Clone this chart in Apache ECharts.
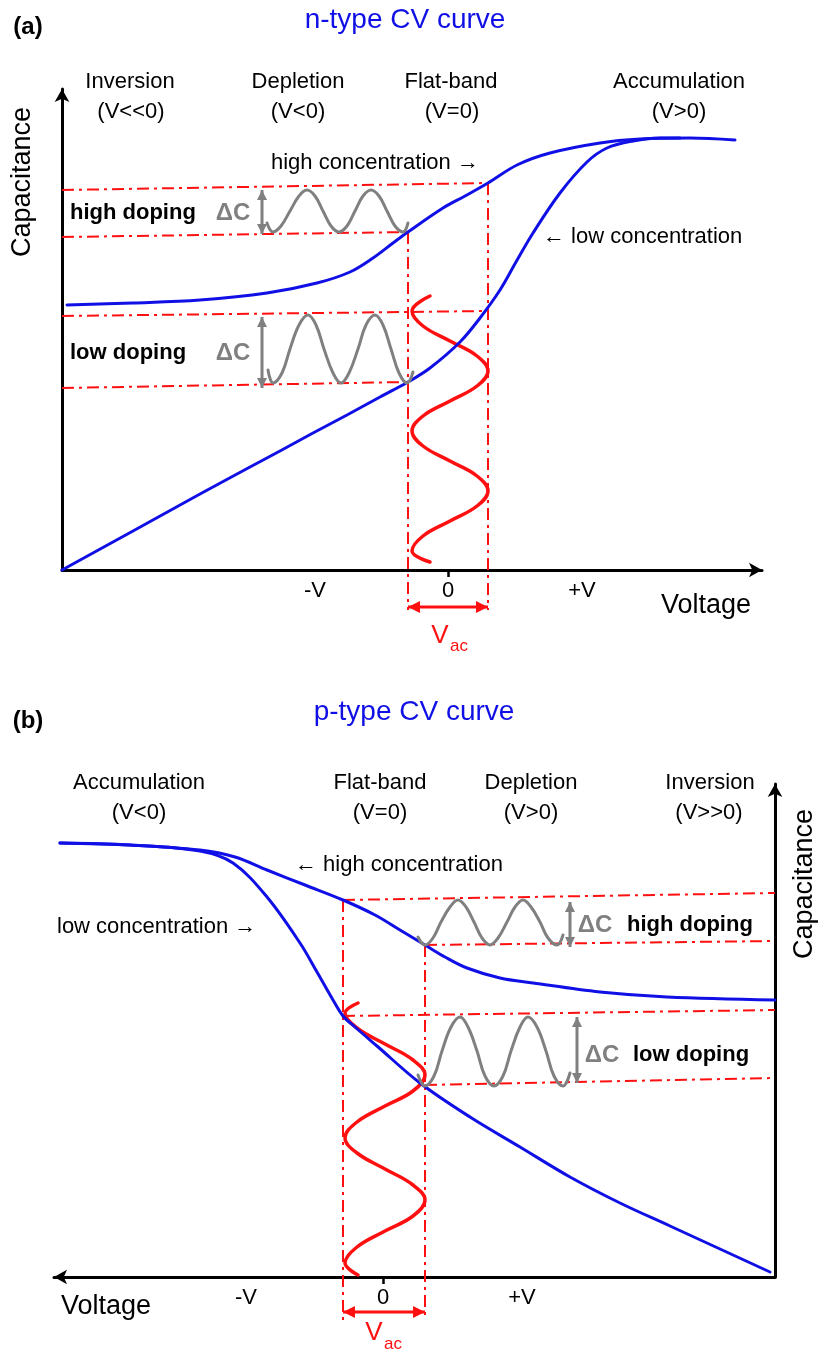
<!DOCTYPE html>
<html>
<head>
<meta charset="utf-8">
<script src="https://cdn.jsdelivr.net/npm/echarts@6/dist/echarts.min.js"></script>
<style>
  html, body { margin: 0; padding: 0; background: #ffffff; }
  #chart { width: 819px; height: 1351px; }
</style>
</head>
<body>
<div id="chart"></div>
<script>
// Voltage and capacitance are in arbitrary units; 0 V is the flat-band point.

// ---------- (a) n-type ----------
const nVoltTicks = [-13.3, 0, 13.4];
const nVoltTickLabels = ['-V', '0', '+V'];

const nHighConc = [[-38.1,26.5],[-31.5,26.7],[-24.8,27.0],[-18.1,27.7],[-13.1,28.7],[-9.8,29.8],[-7.5,31.2],[-5.5,32.7],[-4.0,33.8],[-0.5,36.2],[1.7,37.4],[4.0,38.7],[6.9,40.5],[10.2,41.7],[15.2,42.7],[19.2,43.1],[24.2,43.2],[28.7,43.0]];
const nLowConc = [[-38.6,0.0],[-31.5,3.9],[-24.8,7.6],[-19.8,10.3],[-16.8,11.9],[-13.5,13.7],[-10.1,15.5],[-6.8,17.3],[-4.0,18.8],[-1.8,20.2],[1.2,22.8],[3.2,25.2],[5.2,28.0],[6.8,30.8],[8.5,33.7],[11.2,37.7],[13.9,40.8],[15.9,42.2],[18.5,42.9],[21.2,43.2],[23.2,43.2]];

// capacitance ripple for high / low doping, and the ac voltage ripple
const nHighRipple = [[-18.1,34.7],[-17.5,33.8],[-16.7,34.4],[-15.8,35.9],[-14.9,37.4],[-14.1,38.0],[-13.3,37.4],[-12.5,35.9],[-11.7,34.4],[-10.9,33.8],[-10.1,34.4],[-9.3,35.9],[-8.5,37.4],[-7.7,38.0],[-6.9,37.4],[-6.1,35.9],[-5.3,34.4],[-4.5,33.8],[-4.0,34.7]];
const nLowRipple = [[-18.0,20.0],[-17.5,18.7],[-16.6,19.7],[-15.8,22.1],[-14.9,24.5],[-14.0,25.5],[-13.2,24.5],[-12.4,22.1],[-11.5,19.7],[-10.7,18.7],[-9.9,19.7],[-9.0,22.1],[-8.2,24.5],[-7.3,25.5],[-6.5,24.5],[-5.7,22.1],[-4.9,19.7],[-4.1,18.7],[-3.5,19.8]];
const nAcRipple = [[-1.8,27.4],[-3.6,25.9],[-2.5,24.4],[0.2,22.9],[2.9,21.4],[4.0,19.9],[2.9,18.4],[0.2,16.9],[-2.5,15.4],[-3.6,13.9],[-2.5,12.4],[0.2,10.9],[2.9,9.4],[4.0,7.9],[2.9,6.4],[0.2,4.9],[-2.5,3.4],[-3.6,1.9],[-1.8,0.8]];

const nGuideLines = [
  [[-38.6,38.0],[4.0,38.7]],
  [[-38.6,33.3],[-4.0,33.8]],
  [[-38.6,25.4],[4.0,25.9]],
  [[-38.6,18.2],[-4.0,18.8]],
  [[-4.0,33.8],[-4.0,-4.0]],
  [[4.0,38.7],[4.0,-4.0]]
];
const nDeltaC = [[-18.6,38.0,33.6],[-18.6,25.3,18.2]];   // x, top, bottom
const nVacSpan = [-4.0, 4.0];
const nVacLevel = -3.7;

// ---------- (b) p-type ----------
const pVoltTicks = [-13.7, 0, 13.9];
const pVoltTickLabels = ['-V', '0', '+V'];

const pHighConc = [[-32.3,43.4],[-25.3,43.2],[-18.3,42.7],[-14.8,42.0],[-11.6,40.7],[-7.8,39.2],[-4.0,37.7],[-0.8,36.2],[1.7,34.7],[4.2,33.2],[6.2,32.0],[8.4,30.9],[11.7,29.9],[15.0,29.4],[21.7,28.5],[28.4,28.0],[39.2,27.7]];
const pLowConc = [[-32.3,43.4],[-25.3,43.2],[-18.3,42.6],[-15.0,41.4],[-11.6,38.0],[-8.3,33.4],[-6.6,30.5],[-5.0,27.7],[-4.0,26.1],[-2.8,25.0],[-0.6,23.1],[3.7,19.4],[8.7,16.0],[13.7,13.0],[18.7,10.0],[23.7,7.4],[28.7,5.1],[33.7,2.8],[38.7,0.5]];

const pHighRipple = [[3.5,34.0],[4.2,33.2],[5.0,33.9],[5.8,35.5],[6.7,37.0],[7.5,37.7],[8.3,37.0],[9.1,35.5],[9.9,33.9],[10.7,33.2],[11.5,33.9],[12.4,35.5],[13.2,37.0],[14.0,37.7],[14.8,37.0],[15.7,35.5],[16.5,33.9],[17.4,33.2],[18.0,34.2]];
const pLowRipple = [[3.5,20.2],[4.2,19.1],[5.1,20.1],[5.9,22.6],[6.8,25.0],[7.7,26.0],[8.5,25.0],[9.4,22.6],[10.2,20.1],[11.1,19.1],[12.0,20.1],[12.8,22.6],[13.7,25.0],[14.5,26.0],[15.4,25.0],[16.3,22.6],[17.1,20.1],[18.0,19.1],[18.7,20.4]];
const pAcRipple = [[-2.5,27.4],[-3.8,26.4],[-2.6,24.9],[0.2,23.3],[3.0,21.7],[4.2,20.2],[3.0,18.6],[0.2,17.1],[-2.6,15.5],[-3.8,13.9],[-2.6,12.4],[0.2,10.8],[3.0,9.2],[4.2,7.7],[3.0,6.1],[0.2,4.6],[-2.6,3.0],[-3.8,1.4],[-2.5,0.2]];

const pGuideLines = [
  [[-4.0,37.7],[39.2,38.4]],
  [[4.2,33.2],[39.2,33.6]],
  [[-4.0,26.1],[39.2,26.7]],
  [[4.2,19.2],[39.2,19.9]],
  [[-4.0,37.7],[-4.0,-4.3]],
  [[4.2,33.2],[4.2,-4.3]]
];
const pDeltaC = [[18.7,37.5,33.0],[19.4,26.0,19.4]];
const pVacSpan = [-4.0, 4.2];
const pVacLevel = -3.5;

// ---------- styling ----------
const FONT = '"Liberation Sans", Arial, Helvetica, sans-serif';
const BLUE = '#1010e6';
const RED = '#ff1010';
const GRAY = '#808080';

function curve(gi, data, color, width, smooth, z) {
  return {
    type: 'line', xAxisIndex: gi, yAxisIndex: gi, data: data,
    symbol: 'none', showSymbol: false, smooth: smooth,
    clip: false, silent: true,
    lineStyle: { color: color, width: width, cap: 'round', join: 'round' },
    z: z || 3
  };
}

function guide(gi, seg) {
  return {
    type: 'line', xAxisIndex: gi, yAxisIndex: gi, data: seg,
    symbol: 'none', showSymbol: false, clip: false, silent: true,
    lineStyle: { color: RED, width: 2, type: [12, 5, 3, 5] },
    z: 2
  };
}

// straight double-headed arrow, horizontal or vertical
function arrow(gi, p1, p2, color, width, size) {
  const horizontal = Math.abs(p2[0] - p1[0]) > Math.abs(p2[1] - p1[1]);
  const h = size[1] / 2;
  const a = horizontal ? { rot: 90, off: [h, 0] } : { rot: 0, off: [0, h] };
  const b = horizontal ? { rot: -90, off: [-h, 0] } : { rot: 180, off: [0, -h] };
  return {
    type: 'line', xAxisIndex: gi, yAxisIndex: gi, clip: false, silent: true,
    showSymbol: true, symbol: 'triangle', symbolSize: size,
    data: [
      { value: p1, symbolRotate: a.rot, symbolOffset: a.off },
      { value: p2, symbolRotate: b.rot, symbolOffset: b.off }
    ],
    itemStyle: { color: color, borderWidth: 0 },
    lineStyle: { color: color, width: width },
    z: 4
  };
}

function txt(x, y, text, size, opts) {
  opts = opts || {};
  const font = (opts.bold ? 'bold ' : '') + size + 'px ' + FONT;
  const align = opts.align || 'center';
  return {
    type: 'text', x: x, y: y, rotation: opts.rotation || 0, silent: true, z: 10,
    style: {
      text: text, font: font, fill: opts.fill || '#000000',
      align: align, verticalAlign: 'middle',
      textAlign: align, textVerticalAlign: 'middle'
    }
  };
}

function valueAxis(extra) {
  return Object.assign({
    type: 'value',
    splitLine: { show: false },
    axisTick: { show: false },
    axisLabel: { show: false }
  }, extra);
}

function voltAxis(gi, min, max, ticks, labels, arrowSide) {
  return valueAxis({
    gridIndex: gi, min: min, max: max, position: 'bottom',
    axisLine: { show: true, onZero: false, symbol: arrowSide, symbolSize: [11, 13],
                lineStyle: { color: '#000', width: 3 } },
    axisTick: { show: true, customValues: [0], length: 7, lineStyle: { color: '#000', width: 2.5 } },
    axisLabel: {
      show: true, customValues: ticks, margin: 10, color: '#000',
      fontSize: 22, fontFamily: FONT,
      formatter: function (v) {
        const i = ticks.findIndex(function (t) { return Math.abs(t - v) < 1e-6; });
        return i >= 0 ? labels[i] : '';
      }
    }
  });
}

function capAxis(gi, max, position) {
  return valueAxis({
    gridIndex: gi, min: 0, max: max, position: position,
    axisLine: { show: true, onZero: false, symbol: ['none', 'arrow'], symbolSize: [11, 13],
                lineStyle: { color: '#000', width: 3 } }
  });
}

const series = [];
nGuideLines.forEach(function (s) { series.push(guide(0, s)); });
pGuideLines.forEach(function (s) { series.push(guide(1, s)); });

series.push(curve(0, nHighConc, BLUE, 3, 0.35));
series.push(curve(0, nLowConc, BLUE, 3, 0.35));
series.push(curve(1, pHighConc, BLUE, 3, 0.35));
series.push(curve(1, pLowConc, BLUE, 3, 0.35));

series.push(curve(0, nHighRipple, GRAY, 3, 0.4, 3));
series.push(curve(0, nLowRipple, GRAY, 3, 0.4, 3));
series.push(curve(1, pHighRipple, GRAY, 3, 0.4, 3));
series.push(curve(1, pLowRipple, GRAY, 3, 0.4, 3));

series.push(curve(0, nAcRipple, RED, 3.5, 0.4, 2));
series.push(curve(1, pAcRipple, RED, 3.5, 0.4, 2));

nDeltaC.forEach(function (d) { series.push(arrow(0, [d[0], d[1]], [d[0], d[2]], GRAY, 3, [10, 10])); });
pDeltaC.forEach(function (d) { series.push(arrow(1, [d[0], d[1]], [d[0], d[2]], GRAY, 3, [10, 10])); });
series.push(arrow(0, [nVacSpan[0], nVacLevel], [nVacSpan[1], nVacLevel], RED, 3, [12, 12]));
series.push(arrow(1, [pVacSpan[0], pVacLevel], [pVacSpan[1], pVacLevel], RED, 3, [12, 12]));

const graphics = [
  // (a)
  txt(28, 27, '(a)', 24, { bold: true }),
  txt(405, 20, 'n-type CV curve', 28, { fill: BLUE }),
  txt(23, 182, 'Capacitance', 27, { rotation: Math.PI / 2 }),
  txt(130, 82, 'Inversion', 22), txt(131, 112, '(V<<0)', 22),
  txt(298, 82, 'Depletion', 22), txt(298, 112, '(V<0)', 22),
  txt(451, 82, 'Flat-band', 22), txt(452, 112, '(V=0)', 22),
  txt(679, 82, 'Accumulation', 22), txt(679, 112, '(V>0)', 22),
  txt(271, 163, 'high concentration \u2192', 22, { align: 'left' }),
  txt(543, 237, '\u2190 low concentration', 22, { align: 'left' }),
  txt(70, 213, 'high doping', 22, { bold: true, align: 'left' }),
  txt(233, 213, '\u0394C', 24, { bold: true, fill: GRAY }),
  txt(70, 353, 'low doping', 22, { bold: true, align: 'left' }),
  txt(233, 353, '\u0394C', 24, { bold: true, fill: GRAY }),
  txt(706, 606, 'Voltage', 27),
  txt(440, 636, 'V', 26, { fill: RED }),
  txt(450, 646, 'ac', 17, { fill: RED, align: 'left' }),
  // (b)
  txt(28, 721, '(b)', 24, { bold: true }),
  txt(414, 712, 'p-type CV curve', 28, { fill: BLUE }),
  txt(805, 884, 'Capacitance', 27, { rotation: Math.PI / 2 }),
  txt(139, 783, 'Accumulation', 22), txt(139, 813, '(V<0)', 22),
  txt(380, 783, 'Flat-band', 22), txt(380, 813, '(V=0)', 22),
  txt(531, 783, 'Depletion', 22), txt(531, 813, '(V>0)', 22),
  txt(710, 783, 'Inversion', 22), txt(709, 813, '(V>>0)', 22),
  txt(295, 865, '\u2190 high concentration', 22, { align: 'left' }),
  txt(57, 927, 'low concentration \u2192', 22, { align: 'left' }),
  txt(595, 925, '\u0394C', 24, { bold: true, fill: GRAY }),
  txt(627, 925, 'high doping', 22, { bold: true, align: 'left' }),
  txt(602, 1055, '\u0394C', 24, { bold: true, fill: GRAY }),
  txt(633, 1055, 'low doping', 22, { bold: true, align: 'left' }),
  txt(106, 1307, 'Voltage', 27),
  txt(374, 1333, 'V', 26, { fill: RED }),
  txt(384, 1344, 'ac', 17, { fill: RED, align: 'left' })
];

const chart = echarts.init(document.getElementById('chart'), null, { renderer: 'canvas' });
chart.setOption({
  animation: false,
  backgroundColor: '#ffffff',
  grid: [
    { left: 62, top: 89, width: 700, height: 481, outerBoundsMode: 'none' },
    { left: 54, top: 784, width: 721, height: 493, outerBoundsMode: 'none' }
  ],
  xAxis: [
    voltAxis(0, -38.6, 31.4, nVoltTicks, nVoltTickLabels, ['none', 'arrow']),
    voltAxis(1, -32.9, 39.2, pVoltTicks, pVoltTickLabels, ['arrow', 'none'])
  ],
  yAxis: [
    capAxis(0, 48.1, 'left'),
    capAxis(1, 49.3, 'right')
  ],
  series: series,
  graphic: { elements: graphics }
});
</script>
</body>
</html>
